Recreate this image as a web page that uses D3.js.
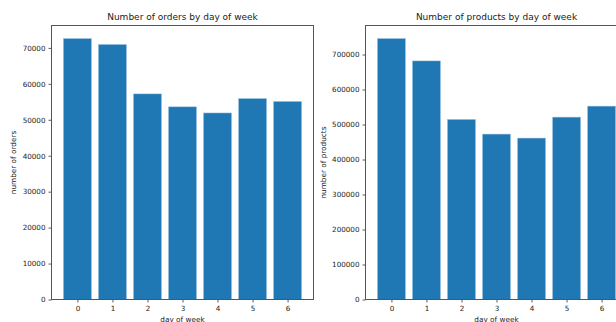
<!DOCTYPE html>
<html>
<head>
<meta charset="utf-8">
<script src="https://cdn.jsdelivr.net/npm/d3@7"></script>
<style>
  html, body { margin: 0; padding: 0; background: #fff; }
  svg { display: block; font-family: "DejaVu Sans", sans-serif; }
</style>
</head>
<body>
<svg id="chart" width="616" height="322"></svg>
<script>
// Day-of-week totals
const days = [0, 1, 2, 3, 4, 5, 6];
const orderCounts = [72600, 70950, 57200, 53600, 51900, 55900, 55100];
const productCounts = [745600, 681700, 514500, 472600, 461200, 521100, 552500];
const orderTicks = [0, 10000, 20000, 30000, 40000, 50000, 60000, 70000];
const productTicks = [0, 100000, 200000, 300000, 400000, 500000, 600000, 700000];

const svg = d3.select("#chart");
const barColor = "#1f77b4";
const axisColor = "#333";

function panel(opts) {
  const { left, top, width, height, values, ticks, title, yLabel, yLabelX } = opts;
  const g = svg.append("g").attr("transform", `translate(${left},${top})`);

  // matplotlib-style bar extents: bars of width 0.8 plus a 5% margin
  const lo = -0.4, hi = days.length - 1 + 0.4, pad = (hi - lo) * 0.05;
  const x = d3.scaleLinear().domain([lo - pad, hi + pad]).range([0, width]);
  const yMax = d3.max(values) * 1.05;
  const y = d3.scaleLinear().domain([0, yMax]).range([height, 0]);

  g.selectAll("rect.bar").data(days).join("rect")
    .attr("class", "bar")
    .attr("x", d => x(d - 0.4))
    .attr("width", d => x(d + 0.4) - x(d - 0.4))
    .attr("y", d => y(values[d]))
    .attr("height", d => height - y(values[d]))
    .attr("fill", barColor)
    .attr("stroke", "#9cc3e0").attr("stroke-width", 0.5);

  const yAxis = g.append("g")
    .call(d3.axisLeft(y).tickValues(ticks).tickSize(3).tickPadding(3).tickFormat(d3.format("d")));
  const xAxis = g.append("g").attr("transform", `translate(0,${height})`)
    .call(d3.axisBottom(x).tickValues(days).tickSize(3).tickPadding(3).tickFormat(d3.format("d")));

  [yAxis, xAxis].forEach(a => {
    a.select(".domain").remove();
    a.selectAll("line").attr("stroke", axisColor).attr("stroke-width", 0.8);
    a.selectAll("text").attr("fill", "#222").style("font-size", "7.2px")
      .style("font-family", "DejaVu Sans, sans-serif");
  });

  // frame
  g.append("rect").attr("x", 0).attr("y", 0).attr("width", width).attr("height", height)
    .attr("fill", "none").attr("stroke", "#555").attr("stroke-width", 1);

  g.append("text").attr("x", width / 2).attr("y", -6)
    .attr("text-anchor", "middle").attr("fill", "#222")
    .style("font-size", "9px").text(title);

  g.append("text").attr("x", width / 2).attr("y", height + 22)
    .attr("text-anchor", "middle").attr("fill", "#222")
    .style("font-size", "7.3px").text("day of week");

  g.append("text")
    .attr("transform", `translate(${yLabelX - left},${height / 2}) rotate(-90)`)
    .attr("text-anchor", "middle").attr("dy", "0.35em").attr("fill", "#222")
    .style("font-size", "7.3px").text(yLabel);
}

panel({ left: 51.5, top: 25.5, width: 262, height: 274, values: orderCounts, ticks: orderTicks,
  title: "Number of orders by day of week", yLabel: "number of orders", yLabelX: 13.5 });
panel({ left: 365.5, top: 25.5, width: 262, height: 274, values: productCounts, ticks: productTicks,
  title: "Number of products by day of week", yLabel: "number of products", yLabelX: 323.5 });
</script>
</body>
</html>
